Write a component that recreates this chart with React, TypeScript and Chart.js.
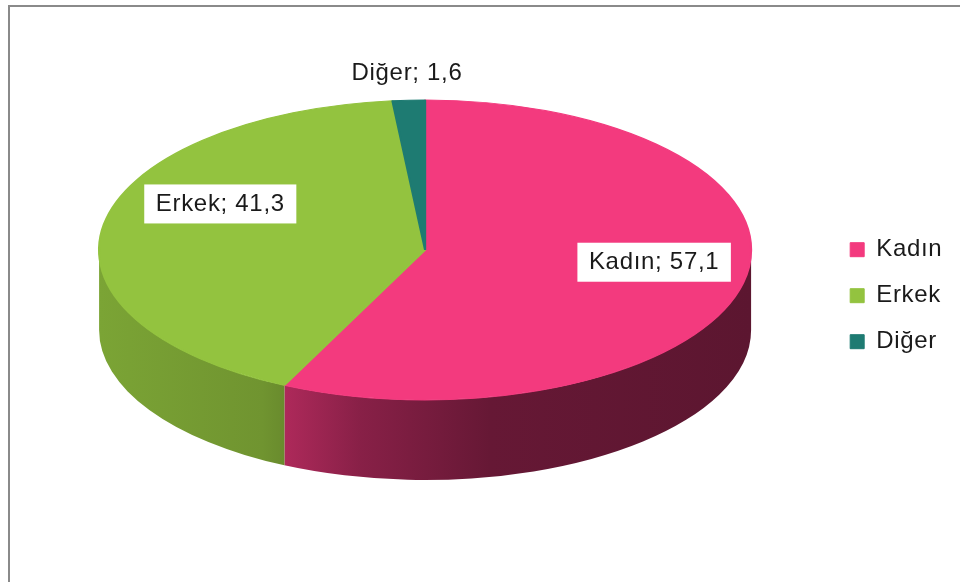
import React, { useEffect, useRef } from 'react';
import { Chart, registerables } from 'chart.js';

Chart.register(...registerables);

// ---- data ----
const categories = ['Kadın', 'Erkek', 'Diğer'];
const values = [57.1, 41.3, 1.6];
const colors = ['#F33A7E', '#93C33F', '#1E7B72'];

// ---- style ----
const FONT = '"Liberation Sans", Arial, sans-serif';
const TEXT_COLOR = '#1a1a1a';
const LETTER_SPACING = '0.7px';
const PIE_RADIUS = 150; // vertical radius of the top face (library radius)
const X_STRETCH = 326 / 150; // horizontal stretch of the tilted pie
const DEPTH = 80; // thickness of the 3D side
const SIDE_STOPS: [number, number][] = [
  [0, 0.84],
  [0.25, 0.76],
  [0.4, 0.56],
  [0.6, 0.42],
  [1, 0.38],
];
const LABEL_NUDGE: [number, number][] = [
  [6.5, -11],
  [20, -28],
  [-1.7, -27],
];

function shade(hex: string, f: number) {
  const n = parseInt(hex.slice(1), 16);
  const r = Math.round(((n >> 16) & 255) * f);
  const g = Math.round(((n >> 8) & 255) * f);
  const b = Math.round((n & 255) * f);
  return `rgb(${r},${g},${b})`;
}

const pie3d = {
  id: 'pie3d',
  beforeUpdate(chart: any) {
    chart.ctx.letterSpacing = LETTER_SPACING;
  },
  beforeDraw(chart: any) {
    chart.ctx.letterSpacing = LETTER_SPACING;
  },
  beforeDatasetsDraw(chart: any) {
    const ctx = chart.ctx as CanvasRenderingContext2D;
    const arcs = chart.getDatasetMeta(0).data;
    ctx.save();
    if (!arcs.length) return;
    const { x: cx, y: cy, outerRadius: r } = arcs[0].getProps(['x', 'y', 'outerRadius'], true);
    const rx = r * X_STRETCH;
    const ry = r;
    arcs.forEach((arc: any, i: number) => {
      const { startAngle, endAngle } = arc.getProps(['startAngle', 'endAngle'], true);
      for (const k of [-2, 0, 2]) {
        const lo = Math.max(startAngle, k * Math.PI);
        const hi = Math.min(endAngle, k * Math.PI + Math.PI);
        if (hi <= lo) continue;
        const grad = ctx.createLinearGradient(cx - rx, 0, cx + rx, 0);
        SIDE_STOPS.forEach(([t, f]) => grad.addColorStop(t, shade(colors[i], f)));
        ctx.beginPath();
        ctx.ellipse(cx, cy, rx, ry, 0, lo, hi);
        ctx.ellipse(cx, cy + DEPTH, rx, ry, 0, hi, lo, true);
        ctx.closePath();
        ctx.fillStyle = grad;
        ctx.fill();
      }
    });
    ctx.translate(cx, cy);
    ctx.scale(X_STRETCH, 1);
    ctx.translate(-cx, -cy);
  },
  afterDatasetsDraw(chart: any) {
    const ctx = chart.ctx as CanvasRenderingContext2D;
    ctx.restore();
    const arcs = chart.getDatasetMeta(0).data;
    if (!arcs.length) return;
    const total = values.reduce((a, b) => a + b, 0);
    ctx.save();
    ctx.font = `24px ${FONT}`;
    (ctx as any).letterSpacing = LETTER_SPACING;
    ctx.textAlign = 'center';
    ctx.textBaseline = 'middle';
    arcs.forEach((arc: any, i: number) => {
      const { x: cx, y: cy, outerRadius: r, startAngle, endAngle } = arc.getProps(
        ['x', 'y', 'outerRadius', 'startAngle', 'endAngle'],
        true
      );
      const mid = (startAngle + endAngle) / 2;
      const outside = values[i] / total < 0.05;
      const f = outside ? 1 : 0.7;
      const lx = cx + Math.cos(mid) * r * X_STRETCH * f + LABEL_NUDGE[i][0];
      const ly = cy + Math.sin(mid) * r * f + LABEL_NUDGE[i][1];
      const text = `${categories[i]}; ${values[i].toFixed(1).replace('.', ',')}`;
      const w = ctx.measureText(text).width;
      ctx.fillStyle = '#ffffff';
      ctx.fillRect(lx - w / 2 - 11.5, ly - 19.5, w + 23, 39);
      ctx.fillStyle = TEXT_COLOR;
      ctx.fillText(text, lx, ly);
    });
    ctx.restore();
  },
};

export default function App() {
  const ref = useRef<HTMLCanvasElement>(null);
  useEffect(() => {
    const chart = new Chart(ref.current as HTMLCanvasElement, {
      type: 'pie',
      data: {
        labels: categories,
        datasets: [
          {
            data: values,
            backgroundColor: colors,
            borderColor: colors,
            borderWidth: 1,
            radius: PIE_RADIUS,
            clip: false,
          } as any,
        ],
      },
      options: {
        responsive: false,
        animation: false,
        devicePixelRatio: 1,
        layout: { padding: { left: 22, right: 7.6, top: 0, bottom: 82 } },
        plugins: {
          tooltip: { enabled: false },
          legend: {
            position: 'right',
            title: {
              display: true,
              text: '',
              padding: { top: 77, bottom: 0 },
              font: { size: 12, lineHeight: 1.2 },
            },
            labels: {
              boxWidth: 14,
              boxHeight: 14,
              padding: 22,
              color: TEXT_COLOR,
              font: { family: FONT, size: 24 },
            },
          },
        },
      } as any,
      plugins: [pie3d],
    });
    return () => chart.destroy();
  }, []);

  return (
    <div
      style={{
        position: 'fixed',
        left: 0,
        top: 0,
        width: 960,
        height: 582,
        background: '#ffffff',
        overflow: 'hidden',
      }}
    >
      <div
        style={{
          position: 'absolute',
          left: 8,
          top: 5,
          width: 980,
          height: 600,
          borderTop: '2px solid #8a8a8a',
          borderLeft: '2px solid #8a8a8a',
        }}
      />
      <canvas
        ref={ref}
        width={960}
        height={582}
        style={{ position: 'absolute', left: 0, top: 0 }}
      />
    </div>
  );
}
